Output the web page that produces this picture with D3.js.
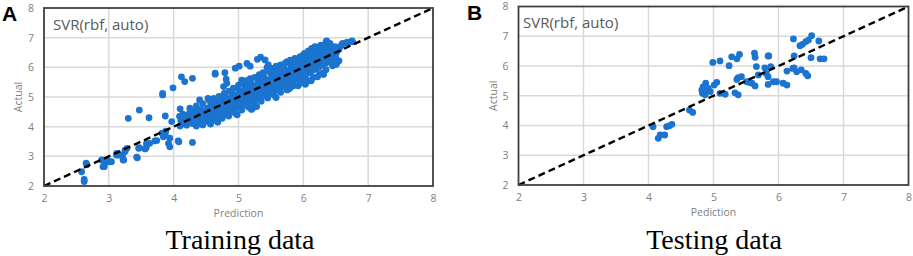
<!DOCTYPE html>
<html><head><meta charset="utf-8">
<script src="https://cdn.jsdelivr.net/npm/d3@7/dist/d3.min.js"></script>
<style>html,body{margin:0;padding:0;background:#fff;}svg{display:block;}</style>
</head><body>
<svg id="chart" width="913" height="256"></svg>
<script>
// ---- data ----
const axisTicks = [2, 3, 4, 5, 6, 7, 8];
const panelLetters = ["A", "B"];
const panelTitles = ["SVR(rbf, auto)", "SVR(rbf, auto)"];
const xLabels = ["Prediction", "Pediction"];
const yLabels = ["Actual", "Actual"];
const captions = ["Training data", "Testing data"];

// training set: [prediction, actual]
const trainPoints = [
  [2.58,2.48],[2.62,2.15],[2.62,2.22],[2.65,2.77],[2.66,2.72],[2.89,2.88],[2.91,2.65],[2.93,2.65],[2.94,2.77],
  [2.96,2.82],[2.97,2.88],[3.02,2.82],[3.04,2.82],[3.12,3.04],[3.12,3.10],[3.17,3.04],[3.21,3.04],[3.22,2.88],
  [3.23,2.88],[3.25,3.16],[3.25,3.21],[3.28,3.27],[3.30,4.28],[3.43,2.97],[3.44,2.95],[3.46,3.27],[3.47,3.29],
  [3.47,4.56],[3.56,3.25],[3.57,3.27],[3.58,3.32],[3.58,3.44],[3.62,4.30],[3.63,3.44],[3.71,3.52],[3.74,3.53],
  [3.82,3.78],[3.83,5.07],[3.84,3.66],[3.87,3.72],[3.87,4.36],[3.88,3.85],[3.92,3.44],[3.94,3.61],[3.94,3.32],
  [3.97,4.17],[3.99,5.31],[3.83,5.12],[4.07,3.52],[4.08,3.49],[4.10,4.60],[4.12,5.68],[4.17,5.52],[4.29,5.63],
  [4.29,3.47],[4.40,4.90],[4.53,4.95],[4.57,4.09],[4.64,5.77],[4.64,5.80],[4.79,5.82],[4.81,5.60],[4.77,5.35],
  [4.82,5.46],[4.95,5.97],[5.01,6.04],[5.05,5.57],[5.13,6.13],[5.18,6.04],[5.20,4.58],[5.22,4.62],[5.29,6.27],
  [5.34,6.34],[5.41,6.25],[5.44,6.00],[5.46,6.08],[5.38,5.35],[5.75,6.19],[5.77,5.33],[5.79,5.29],[5.87,6.30],
  [6.00,6.42],[6.00,5.48],[6.03,5.43],[6.04,5.46],[6.13,6.64],[6.18,6.70],[6.18,6.67],[6.25,6.63],[6.27,6.75],
  [6.30,5.80],[6.31,5.78],[6.31,5.76],[6.35,6.86],[6.36,6.89],[6.41,6.81],[6.41,6.78],[6.49,6.70],[6.50,6.11],
  [6.51,6.10],[6.60,6.80],[6.62,6.81],[6.67,6.84],[6.69,6.83],[6.75,6.89],[6.76,6.86],
  [4.10,4.02],[4.11,4.21],[4.09,4.35],[4.15,4.10],[4.16,4.28],[4.14,4.42],[4.20,4.05],[4.21,4.22],[4.19,4.38],
  [4.22,4.30],[4.25,4.15],[4.26,4.33],[4.24,4.45],[4.30,4.10],[4.31,4.25],[4.29,4.40],[4.32,4.52],[4.35,4.18],
  [4.36,4.33],[4.34,4.48],[4.40,4.12],[4.41,4.28],[4.39,4.42],[4.42,4.58],[4.45,4.22],[4.46,4.36],[4.44,4.50],
  [4.50,4.20],[4.51,4.33],[4.49,4.47],[4.52,4.62],[4.55,4.28],[4.56,4.42],[4.54,4.56],[4.57,4.70],[4.60,4.30],
  [4.61,4.45],[4.59,4.58],[4.62,4.74],[4.65,4.35],[4.66,4.50],[4.64,4.66],[4.67,4.80],[4.70,4.40],[4.71,4.55],
  [4.69,4.68],[4.72,4.85],[4.75,4.45],[4.76,4.60],[4.74,4.75],[4.77,4.90],[4.80,4.42],[4.81,4.58],[4.79,4.72],
  [4.82,4.88],[4.80,5.02],[4.85,4.50],[4.86,4.66],[4.84,4.80],[4.87,4.95],[4.90,4.55],[4.91,4.70],[4.89,4.86],
  [4.92,5.00],[4.90,5.15],[4.95,4.62],[4.96,4.78],[4.94,4.92],[4.97,5.06],[5.00,4.65],[5.01,4.80],[4.99,4.95],
  [5.02,5.10],[5.00,5.25],[5.05,4.72],[5.06,4.88],[5.04,5.02],[5.07,5.18],[5.10,4.75],[5.11,4.90],[5.09,5.05],
  [5.12,5.20],[5.10,5.35],[5.15,4.82],[5.16,4.98],[5.14,5.12],[5.17,5.28],[5.20,4.85],[5.21,5.00],[5.19,5.15],
  [5.22,5.30],[5.20,5.45],[5.25,4.92],[5.26,5.08],[5.24,5.22],[5.27,5.38],[5.30,4.95],[5.31,5.10],[5.29,5.25],
  [5.32,5.40],[5.30,5.55],[5.35,5.02],[5.36,5.18],[5.34,5.32],[5.37,5.48],[5.40,5.05],[5.41,5.20],[5.39,5.36],
  [5.42,5.52],[5.40,5.66],[5.45,5.12],[5.46,5.28],[5.44,5.42],[5.47,5.58],[5.50,5.15],[5.51,5.30],[5.49,5.46],
  [5.52,5.62],[5.50,5.78],[5.55,5.22],[5.56,5.38],[5.54,5.52],[5.57,5.68],[5.60,5.25],[5.61,5.40],[5.59,5.56],
  [5.62,5.72],[5.60,5.88],[5.65,5.32],[5.66,5.48],[5.64,5.62],[5.67,5.78],[5.70,5.38],[5.71,5.52],[5.69,5.66],
  [5.72,5.82],[5.70,5.96],[5.75,5.45],[5.76,5.60],[5.74,5.75],[5.77,5.90],[5.80,5.50],[5.81,5.65],[5.79,5.80],
  [5.82,5.95],[5.80,6.10],[5.85,5.56],[5.86,5.72],[5.84,5.86],[5.87,6.02],[5.90,5.60],[5.91,5.75],[5.89,5.90],
  [5.92,6.05],[5.90,6.18],[5.95,5.66],[5.96,5.82],[5.94,5.96],[5.97,6.12],[6.00,5.70],[6.01,5.86],[5.99,6.00],
  [6.02,6.15],[6.00,6.30],[6.05,5.78],[6.06,5.92],[6.04,6.06],[6.07,6.20],[6.10,5.82],[6.11,5.98],[6.09,6.12],
  [6.12,6.26],[6.10,6.40],[6.15,5.90],[6.16,6.04],[6.14,6.18],[6.17,6.32],[6.20,5.95],[6.21,6.10],[6.19,6.24],
  [6.22,6.38],[6.20,6.52],[6.25,6.02],[6.26,6.16],[6.24,6.30],[6.27,6.44],[6.30,6.08],[6.31,6.22],[6.29,6.36],
  [6.32,6.50],[6.35,6.15],[6.36,6.30],[6.34,6.44],[6.37,6.58],[6.40,6.20],[6.41,6.35],[6.39,6.50],[6.42,6.64],
  [6.45,6.28],[6.46,6.42],[6.44,6.56],[6.50,6.32],[6.51,6.48],[6.49,6.62],[6.55,6.60],[6.58,6.72],
  [4.25,4.62],[4.35,4.70],[4.45,4.78],[4.55,4.88],[4.62,4.95],[4.70,5.02],[4.78,5.12],[4.85,5.20],[4.92,5.30],
  [5.00,5.40],[5.05,5.48],[5.12,5.55],[5.18,5.62],[5.25,5.66],[5.32,5.75],[5.38,5.82],[5.45,5.88],[5.52,5.96],
  [5.58,6.04],[5.65,6.08],[5.72,6.14],[5.80,6.24],[5.88,6.22],[5.95,6.36],[6.02,6.47],[6.08,6.55],[6.15,6.52],
  [6.22,6.62],[6.28,6.58],[6.33,6.70],[6.06,6.36],[5.96,6.25],[5.68,5.95],[5.58,5.82],[5.33,5.60],[5.13,5.42],
  [4.35,4.02],[4.45,4.06],[4.55,4.14],[4.65,4.22],[4.75,4.28],[4.85,4.36],[4.95,4.45],[5.05,4.56],[5.15,4.66],
  [5.25,4.76],[5.35,4.86],[5.45,4.97],[5.55,5.06],[5.65,5.16],[5.75,5.24],[5.85,5.38],[5.95,5.48],[6.05,5.58],
  [6.15,5.66],[6.25,5.78],[6.35,5.92],[6.45,6.05],[6.55,6.22],[6.12,5.55],[6.22,5.68],[5.92,5.38],[5.58,4.98],
  [5.28,4.68],[4.98,4.40],[4.68,4.15]
];

// testing set: [prediction, actual]
const testPoints = [
  [4.07,3.96],[4.15,3.57],[4.18,3.68],[4.25,3.68],[4.28,3.96],[4.32,3.99],[4.36,4.04],[4.63,4.52],[4.68,4.44],
  [4.82,5.19],[4.83,5.08],[4.84,5.30],[4.87,5.03],[4.88,5.42],[4.89,5.19],[4.92,5.25],[4.95,5.14],[4.99,6.12],
  [5.01,5.36],[5.05,5.45],[5.10,5.08],[5.10,6.17],[5.18,5.05],[5.24,6.01],[5.28,6.31],[5.33,5.10],[5.36,6.24],
  [5.36,5.55],[5.38,5.03],[5.38,5.61],[5.40,6.39],[5.43,5.64],[5.51,5.47],[5.55,5.45],[5.59,5.42],[5.63,6.43],
  [5.64,6.29],[5.64,5.33],[5.66,5.98],[5.69,5.70],[5.79,5.94],[5.81,5.75],[5.84,5.64],[5.84,5.38],[5.84,6.34],
  [5.85,6.34],[5.88,5.98],[5.92,5.47],[5.97,5.47],[6.07,5.42],[6.13,5.36],[6.13,5.83],[6.22,5.92],[6.23,6.91],
  [6.24,6.34],[6.24,5.94],[6.28,5.81],[6.33,6.68],[6.35,5.87],[6.37,6.73],[6.42,6.82],[6.42,5.75],[6.45,5.67],
  [6.46,6.87],[6.50,6.28],[6.51,7.02],[6.62,6.84],[6.64,6.24],[6.70,6.24]
];

const dotColor = "#1b74cf";
const svg = d3.select("#chart");

const panels = [
  { data: trainPoints, x0: 44, x1: 433, yTop: 8, yBot: 186, letterX: 2, letterY: 21, titleX: 53, titleY: 30, capX: 240 },
  { data: testPoints, x0: 518.5, x1: 908.5, yTop: 6.5, yBot: 185, letterX: 467, letterY: 20, titleX: 523, titleY: 28, capX: 714 }
];

panels.forEach((p, i) => {
  const x = d3.scaleLinear().domain([2, 8]).range([p.x0, p.x1]);
  const y = d3.scaleLinear().domain([2, 8]).range([p.yBot, p.yTop]);
  const g = svg.append("g");

  // gridlines
  g.append("g").selectAll("line").data(axisTicks.slice(1, -1)).join("line")
    .attr("x1", d => x(d)).attr("x2", d => x(d)).attr("y1", p.yTop).attr("y2", p.yBot)
    .attr("stroke", "#d9d9d9").attr("stroke-width", 1.5);
  g.append("g").selectAll("line").data(axisTicks.slice(1, -1)).join("line")
    .attr("y1", d => y(d)).attr("y2", d => y(d)).attr("x1", p.x0).attr("x2", p.x1)
    .attr("stroke", "#d9d9d9").attr("stroke-width", 1.5);

  // axes (labels only)
  const ax = g.append("g").attr("transform", `translate(0,${p.yBot})`)
    .call(d3.axisBottom(x).tickValues(axisTicks).tickSize(0).tickPadding(9).tickFormat(d3.format("d")));
  const ay = g.append("g").attr("transform", `translate(${p.x0},0)`)
    .call(d3.axisLeft(y).tickValues(axisTicks).tickSize(0).tickPadding(10).tickFormat(d3.format("d")));
  [ax, ay].forEach(a => {
    a.select(".domain").remove();
    a.selectAll("text").attr("fill", "#7f7f7f").style("font-family", "'Open Sans', sans-serif").style("font-size", "10.5px");
  });

  // dots
  g.append("g").selectAll("circle").data(p.data).join("circle")
    .attr("cx", d => x(d[0])).attr("cy", d => y(d[1])).attr("r", 3.4)
    .attr("fill", dotColor);

  // diagonal
  g.append("line").attr("x1", x(2)).attr("y1", y(2)).attr("x2", x(8)).attr("y2", y(8))
    .attr("stroke", "#000").attr("stroke-width", 2.4).attr("stroke-dasharray", "7,4");

  // frame
  g.append("rect").attr("x", p.x0).attr("y", p.yTop).attr("width", p.x1 - p.x0).attr("height", p.yBot - p.yTop)
    .attr("fill", "none").attr("stroke", "#404040").attr("stroke-width", 1.8);

  // texts
  g.append("text").attr("x", p.letterX).attr("y", p.letterY).text(panelLetters[i])
    .style("font-family", "'Liberation Sans', Arial, sans-serif").style("font-weight", "bold").style("font-size", "21px").attr("fill", "#000");
  g.append("text").attr("x", p.titleX).attr("y", p.titleY).text(panelTitles[i])
    .style("font-family", "'Open Sans', sans-serif").style("font-size", "15px").attr("fill", "#595959");
  g.append("text").attr("x", x(5)).attr("y", p.yBot + 31).attr("text-anchor", "middle").text(xLabels[i])
    .style("font-family", "'Open Sans', sans-serif").style("font-size", "10.5px").attr("fill", "#7f7f7f");
  g.append("text").attr("transform", `translate(${p.x0 - 22},${y(5)}) rotate(-90)`).attr("text-anchor", "middle").text(yLabels[i])
    .style("font-family", "'Open Sans', sans-serif").style("font-size", "10.5px").attr("fill", "#7f7f7f");
  g.append("text").attr("x", p.capX).attr("y", 249).attr("text-anchor", "middle").text(captions[i])
    .style("font-family", "'Liberation Serif', 'Times New Roman', serif").style("font-size", "28px").attr("fill", "#000");
});
</script>
</body></html>
